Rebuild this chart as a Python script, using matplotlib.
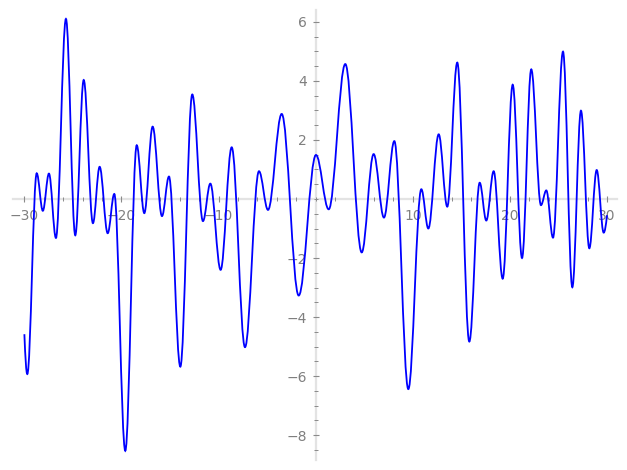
import matplotlib
matplotlib.use("Agg")
import matplotlib.pyplot as plt
from matplotlib.path import Path
from matplotlib.patches import PathPatch
from matplotlib.ticker import MultipleLocator, FixedLocator

# Points: curve ends and every local extremum (x, y)
curve_x = [-30.0, -29.7, -28.73, -28.1, -27.47, -26.75, -25.72, -24.76, -23.89, -22.94,
           -22.25, -21.42, -20.74, -19.61, -18.43, -17.65, -16.79, -15.83, -15.11, -13.94,
           -12.71, -11.61, -10.85, -9.79, -8.65, -7.28, -5.84, -4.91, -3.50, -1.75,
           0.03, 1.34, 3.05, 4.74, 5.97, 7.03, 8.10, 9.54, 10.88, 11.60,
           12.67, 13.55, 14.58, 15.82, 16.89, 17.57, 18.33, 19.26, 20.29, 21.25,
           22.20, 23.20, 23.75, 24.44, 25.47, 26.43, 27.32, 28.18, 28.94, 29.66, 30.0]
curve_y = [-4.58, -5.93, 0.87, -0.40, 0.86, -1.32, 6.10, -1.23, 4.03, -0.82,
           1.09, -1.16, 0.17, -8.53, 1.82, -0.48, 2.45, -0.58, 0.76, -5.68,
           3.54, -0.75, 0.52, -2.40, 1.75, -5.02, 0.94, -0.37, 2.88, -3.27,
           1.49, -0.35, 4.57, -1.81, 1.52, -0.63, 1.96, -6.44, 0.33, -1.00,
           2.19, -0.26, 4.62, -4.83, 0.55, -0.73, 0.94, -2.70, 3.87, -2.00,
           4.39, -0.21, 0.29, -1.31, 4.99, -2.99, 2.99, -1.67, 0.98, -1.14, -0.55]

x_major = [-30, -20, -10, 10, 20, 30]
y_major = [-8, -6, -4, -2, 2, 4, 6]

fig = plt.figure(figsize=(6.27, 4.70), dpi=100)
ax = fig.add_axes([0.0203, 0.0213, 0.9642, 0.9574])
ax.set_xlim(-31.2, 31.06)
ax.set_ylim(-8.84, 6.4)

# smooth curve: cubic segments with flat tangents at extrema
K = 0.3642
n = len(curve_x)
verts = [(curve_x[0], curve_y[0])]
codes = [Path.MOVETO]
for i in range(n - 1):
    x0, y0 = curve_x[i], curve_y[i]
    x1, y1 = curve_x[i + 1], curve_y[i + 1]
    dx = x1 - x0
    if i == 0:
        c1 = (x0 + dx / 3, y0 + (y1 - y0) * 0.6)
    else:
        c1 = (x0 + K * dx, y0)
    if i == n - 2:
        c2 = (x1 - dx / 3, y1 - (y1 - y0) * 0.6)
    else:
        c2 = (x1 - K * dx, y1)
    verts += [c1, c2, (x1, y1)]
    codes += [Path.CURVE4] * 3
patch = PathPatch(Path(verts, codes), fill=False, edgecolor="#0000ff", lw=1.3,
                  transform=ax.transData, zorder=3)
ax.add_patch(patch)

for s in ["top", "right"]:
    ax.spines[s].set_visible(False)
ax.spines["left"].set_position(("data", 0))
ax.spines["bottom"].set_position(("data", 0))
for s in ["left", "bottom"]:
    ax.spines[s].set_color("#e3e3e3")
    ax.spines[s].set_linewidth(1.6)
    ax.spines[s].set_zorder(1)

ax.xaxis.set_major_locator(FixedLocator(x_major))
ax.yaxis.set_major_locator(FixedLocator(y_major))
ax.xaxis.set_minor_locator(MultipleLocator(2))
ax.yaxis.set_minor_locator(MultipleLocator(0.5))
ax.tick_params(which="major", direction="inout", length=5, width=0.8, colors="#8a8a8a",
               labelsize=10, labelcolor="#7f7f7f")
ax.tick_params(which="minor", direction="inout", length=3, width=0.7, colors="#8a8a8a")
ax.tick_params(axis="x", pad=5)
ax.tick_params(axis="y", pad=4)

fig.savefig("out.png", dpi=100)
